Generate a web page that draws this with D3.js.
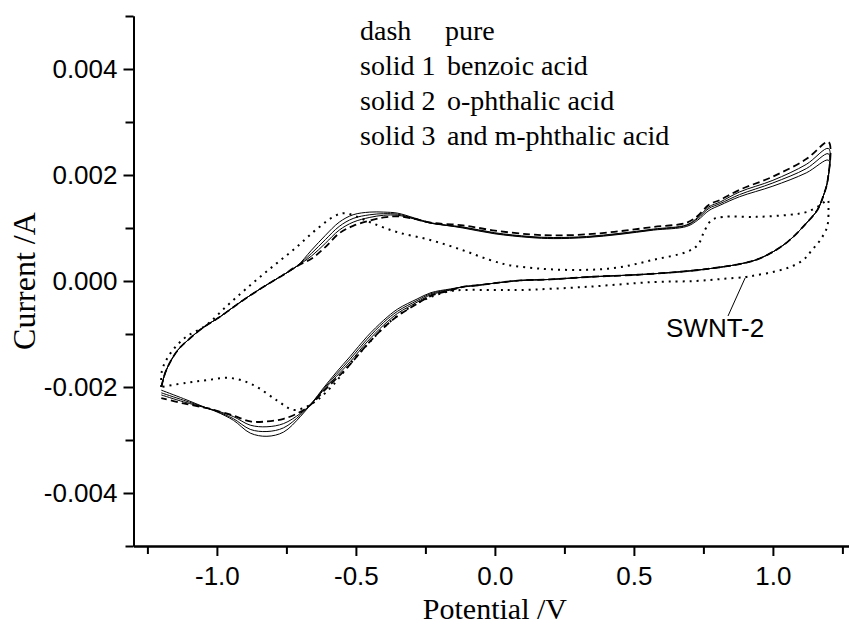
<!DOCTYPE html>
<html>
<head>
<meta charset="utf-8">
<script src="https://cdn.jsdelivr.net/npm/d3@7"></script>
<style>
  body { margin: 0; background: #fff; }
  svg { display: block; }
</style>
</head>
<body>
<svg id="chart" width="849" height="628"></svg>
<script>
// potential in V, current in mA (axis shows A)

// left rising branch, all four curves on top of each other
const rise_left = [[-1.2,-2.0],[-1.185,-1.72],[-1.165,-1.5],[-1.14,-1.3],[-1.105,-1.12],[-1.05,-0.88],
  [-0.99,-0.68],[-0.935,-0.47],[-0.88,-0.27],[-0.82,-0.07],[-0.763,0.11],[-0.712,0.28]];

// right falling branch, shared too
const fall_right = [[1.197,1.9],[1.185,1.66],[1.16,1.34],[1.12,1.09],[1.06,0.77],[1.0,0.55],[0.94,0.40],
  [0.88,0.32],[0.81,0.26],[0.70,0.19],[0.52,0.12],[0.35,0.08],[0.2,0.03],[0.09,0.01],[0.0,-0.04],
  [-0.06,-0.08],[-0.115,-0.11]];

// upper branch where the curves split
const v_up = [-0.66,-0.61,-0.56,-0.51,-0.45,-0.40,-0.35,-0.29,-0.23,-0.115,0.0,0.126,0.21,0.33,0.45,0.57,0.69,0.73,0.77,0.81,0.88,1.0,1.12,1.2];
const up_pure = [0.42,0.64,0.90,1.04,1.14,1.20,1.22,1.17,1.10,1.05,0.95,0.88,0.86,0.88,0.94,1.02,1.10,1.23,1.44,1.53,1.72,1.97,2.30,2.62];
const up_s1   = [0.47,0.71,0.96,1.11,1.20,1.24,1.24,1.17,1.09,1.02,0.91,0.84,0.82,0.84,0.90,0.98,1.06,1.20,1.40,1.49,1.68,1.90,2.20,2.50];
const up_s2   = [0.52,0.78,1.03,1.18,1.25,1.27,1.26,1.18,1.09,1.01,0.90,0.83,0.81,0.83,0.89,0.97,1.05,1.18,1.37,1.46,1.63,1.85,2.12,2.40];
const up_s3   = [0.58,0.86,1.11,1.25,1.30,1.30,1.28,1.19,1.10,1.00,0.89,0.82,0.80,0.82,0.88,0.96,1.03,1.15,1.33,1.43,1.59,1.79,2.04,2.28];

// lower branch where the curves split (dip)
const v_low = [-0.16,-0.23,-0.28,-0.35,-0.40,-0.46,-0.52,-0.57,-0.62,-0.655,-0.70,-0.76,-0.82,-0.88,-0.94,-1.0,-1.035,-1.12,-1.2];
const low_pure = [-0.18,-0.28,-0.43,-0.66,-0.88,-1.20,-1.57,-1.84,-2.10,-2.30,-2.47,-2.60,-2.65,-2.65,-2.54,-2.45,-2.40,-2.31,-2.21];
const low_s1   = [-0.17,-0.26,-0.40,-0.61,-0.83,-1.15,-1.52,-1.80,-2.08,-2.29,-2.50,-2.69,-2.75,-2.72,-2.56,-2.45,-2.40,-2.28,-2.15];
const low_s2   = [-0.16,-0.24,-0.37,-0.57,-0.78,-1.10,-1.47,-1.76,-2.06,-2.28,-2.53,-2.77,-2.84,-2.80,-2.60,-2.46,-2.40,-2.25,-2.11];
const low_s3   = [-0.15,-0.22,-0.34,-0.53,-0.74,-1.05,-1.42,-1.72,-2.04,-2.28,-2.56,-2.85,-2.93,-2.87,-2.63,-2.47,-2.40,-2.22,-2.06];

// SWNT-2 (dotted) loop
const swnt_loop = [[-1.2,-2.0],[-1.198,-1.7],[-1.18,-1.47],[-1.15,-1.25],[-1.11,-1.05],[-1.04,-0.84],[-0.96,-0.45],
  [-0.88,-0.08],[-0.80,0.27],[-0.72,0.61],[-0.645,0.96],[-0.575,1.23],[-0.54,1.28],[-0.50,1.22],[-0.44,1.09],
  [-0.35,0.92],[-0.23,0.77],[-0.115,0.58],[-0.02,0.40],[0.05,0.30],[0.126,0.25],[0.2,0.22],[0.33,0.21],[0.45,0.26],
  [0.57,0.40],[0.69,0.55],[0.73,0.68],[0.755,0.96],[0.78,1.15],[0.82,1.21],[0.94,1.21],[1.06,1.25],[1.12,1.30],
  [1.17,1.43],[1.197,1.53],[1.2,1.34],[1.195,1.02],[1.17,0.77],[1.14,0.58],[1.11,0.40],[1.06,0.26],[1.0,0.17],
  [0.94,0.11],[0.90,0.075],[0.82,0.04],[0.72,0.0],[0.57,-0.02],[0.33,-0.11],[0.09,-0.17],[0.0,-0.17],
  [-0.115,-0.17],[-0.16,-0.19],[-0.23,-0.3],[-0.3,-0.48],[-0.38,-0.78],[-0.45,-1.15],[-0.52,-1.56],[-0.58,-1.95],
  [-0.64,-2.25],[-0.69,-2.4],[-0.727,-2.43],[-0.785,-2.25],[-0.87,-1.96],[-0.95,-1.83],[-1.035,-1.87],
  [-1.11,-1.92],[-1.2,-2.0]];

const x_major = [-1.0, -0.5, 0.0, 0.5, 1.0];
const x_minor = [-1.25, -0.75, -0.25, 0.25, 0.75, 1.25];
const y_major = [-0.004, -0.002, 0.0, 0.002, 0.004];
const y_minor = [-0.005, -0.003, -0.001, 0.001, 0.003, 0.005];

const legend_keys = ['dash', 'solid 1', 'solid 2', 'solid 3'];
const legend_names = ['pure', 'benzoic acid', 'o-phthalic acid', 'and m-phthalic acid'];

const svg = d3.select('#chart');

const xScale = d3.scaleLinear().domain([-1.3, 1.3]).range([133.5, 856.3]);
const yScale = d3.scaleLinear().domain([-0.005, 0.005]).range([546, 16]);

const zip = (vs, is) => vs.map((v, k) => [v, is[k]]);
const loop = (up, low) => rise_left.concat(zip(v_up, up), fall_right, zip(v_low, low));

const series = [
  { name: 'swnt', pts: swnt_loop, dash: '2,5', w: 2 },
  { name: 'pure', pts: loop(up_pure, low_pure), dash: '7,4', w: 1.8 },
  { name: 's1', pts: loop(up_s1, low_s1), dash: null, w: 1 },
  { name: 's2', pts: loop(up_s2, low_s2), dash: null, w: 1 },
  { name: 's3', pts: loop(up_s3, low_s3), dash: null, w: 1 }
];

const line = d3.line()
  .curve(d3.curveCatmullRom.alpha(0.5))
  .x(d => xScale(d[0]))
  .y(d => yScale(d[1] / 1000));

svg.append('g').attr('class', 'curves')
  .selectAll('path').data(series).enter().append('path')
    .attr('d', d => line(d.pts))
    .attr('fill', 'none')
    .attr('stroke', '#000')
    .attr('stroke-width', d => d.w)
    .attr('stroke-dasharray', d => d.dash);

const axisStyle = g => {
  g.selectAll('.domain').attr('stroke-width', 2);
  g.selectAll('line').attr('stroke-width', 2);
  g.selectAll('text')
    .attr('font-family', '"Liberation Sans", Arial, sans-serif')
    .attr('font-size', 26)
    .attr('fill', '#000');
}

// x axis
svg.append('g')
  .attr('transform', `translate(0, ${yScale(-0.005)})`)
  .call(d3.axisBottom(xScale).tickValues(x_major).tickSize(10).tickSizeOuter(0)
    .tickPadding(11).tickFormat(d => d.toFixed(1)))
  .call(axisStyle);
svg.append('g')
  .attr('transform', `translate(0, ${yScale(-0.005)})`)
  .call(d3.axisBottom(xScale).tickValues(x_minor).tickSize(8).tickSizeOuter(0).tickFormat(''))
  .call(axisStyle);

// y axis
svg.append('g')
  .attr('transform', `translate(${xScale(-1.3)}, 0)`)
  .call(d3.axisLeft(yScale).tickValues(y_major).tickSize(10).tickSizeOuter(0)
    .tickPadding(6).tickFormat(d => d.toFixed(3)))
  .call(axisStyle);
svg.append('g')
  .attr('transform', `translate(${xScale(-1.3)}, 0)`)
  .call(d3.axisLeft(yScale).tickValues(y_minor).tickSize(8).tickSizeOuter(0).tickFormat(''))
  .call(axisStyle);

// axis titles
svg.append('text')
  .attr('x', xScale(0)).attr('y', 619)
  .attr('text-anchor', 'middle')
  .attr('font-family', '"Liberation Serif", "Times New Roman", serif')
  .attr('font-size', 30)
  .text('Potential /V');
svg.append('text')
  .attr('transform', `translate(35, ${yScale(0)}) rotate(-90)`)
  .attr('text-anchor', 'middle')
  .attr('font-family', '"Liberation Serif", "Times New Roman", serif')
  .attr('font-size', 32)
  .text('Current /A');

// legend text
const legend = svg.append('g')
  .attr('font-family', '"Liberation Serif", "Times New Roman", serif')
  .attr('font-size', 28);
legend.selectAll('.key').data(legend_keys).enter().append('text')
  .attr('class', 'key')
  .attr('x', 360).attr('y', (d, i) => 40 + i * 35)
  .text(d => d);
legend.selectAll('.name').data(legend_names).enter().append('text')
  .attr('class', 'name')
  .attr('x', (d, i) => i == 0 ? 445 : 447).attr('y', (d, i) => 40 + i * 35)
  .text(d => d);

// SWNT-2 label with leader line to the dotted curve
svg.append('line')
  .attr('x1', xScale(0.90)).attr('y1', yScale(0.075 / 1000) + 1)
  .attr('x2', 728).attr('y2', 316)
  .attr('stroke', '#000').attr('stroke-width', 1);
svg.append('text')
  .attr('x', 666).attr('y', 337)
  .attr('font-family', '"Liberation Sans", Arial, sans-serif')
  .attr('font-size', 26)
  .text('SWNT-2');
</script>
</body>
</html>
